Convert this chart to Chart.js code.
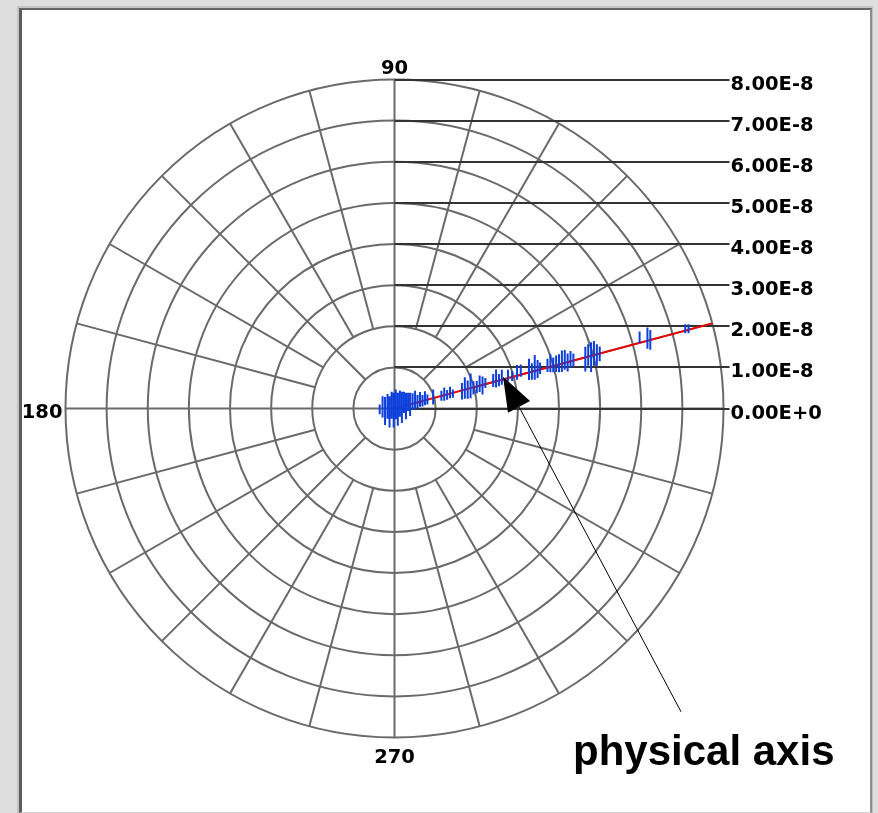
<!DOCTYPE html>
<html>
<head>
<meta charset="utf-8">
<script src="https://cdn.jsdelivr.net/npm/chart.js@4/dist/chart.umd.min.js"></script>
<style>
  html, body { margin: 0; padding: 0; background: #dedede; width: 878px; height: 813px; overflow: hidden; }
  #outer { position: absolute; left: 17px; top: 6px; width: 856px; height: 807px;
           border-left: 2px solid #c4c4c4; border-top: 2px solid #c4c4c4; border-right: 1px solid #c0c0c0; box-sizing: border-box; }
  #inner { position: absolute; left: 0; top: 0; right: 0; bottom: 0; background: #fff;
           border-left: 3px solid #5c5c5c; border-top: 2px solid #666; border-right: 2px solid #8c8c8c; border-bottom: 1px solid #d2d2d2; }
  canvas { position: absolute; left: 0; top: 0; }
</style>
</head>
<body>
<div id="outer"><div id="inner"></div></div>
<canvas id="c" width="878" height="813"></canvas>
<script>
// ---- data (values in units of 1e-8) ----
const UNIT = 1e-8;
const ringValues = [1, 2, 3, 4, 5, 6, 7, 8];
const radialTickValues = [0, 1, 2, 3, 4, 5, 6, 7, 8];
const radialTickLabels = ['0.00E+0', '1.00E-8', '2.00E-8', '3.00E-8', '4.00E-8', '5.00E-8', '6.00E-8', '7.00E-8', '8.00E-8'];
const spokeAngles = [0, 15, 30, 45, 60, 75, 90, 105, 120, 135, 150, 165, 180, 195, 210, 225, 240, 255, 270, 285, 300, 315, 330, 345];
const angleLabelAngles = [90, 180, 270];
const angleLabels = ['90', '180', '270'];
const axisAngle = 15;       // physical axis direction (deg)
const axisLength = 8;       // ×1e-8
const annotationText = 'physical axis';
const annotationTip = [2.64, 0.77]; // ×1e-8

const ptX = [-0.36,-0.29,-0.23,-0.17,-0.12,-0.07,-0.02,0.03,0.08,0.13,0.18,0.23,0.28,0.33,0.38,0.44,0.5,0.56,0.62,0.68,0.74,0.8,0.94,
  1.14,1.21,1.28,1.35,1.42,
  1.64,1.71,1.78,1.85,1.92,2.0,2.07,2.14,2.21,
  2.4,2.47,2.54,2.61,2.76,2.86,2.98,3.07,
  3.27,3.34,3.41,3.48,3.54,3.72,3.79,3.86,3.93,4.0,4.07,4.14,4.21,4.28,4.35,
  4.64,4.71,4.78,4.85,4.92,4.99,5.96,6.15,6.22,7.07,7.15];
const ptY = [-0.02,0.04,-0.06,0.05,-0.08,0.08,-0.04,0.1,-0.02,0.12,0.03,0.15,0.06,0.16,0.1,0.17,0.21,0.16,0.22,0.19,0.25,0.22,0.28,
  0.31,0.35,0.33,0.39,0.36,
  0.42,0.5,0.46,0.55,0.5,0.52,0.6,0.56,0.62,
  0.68,0.73,0.69,0.76,0.8,0.79,0.88,0.92,
  0.95,0.9,1.0,0.96,0.98,1.05,1.1,1.06,1.09,1.1,1.15,1.18,1.12,1.2,1.18,
  1.2,1.3,1.25,1.34,1.3,1.33,1.73,1.71,1.67,1.94,1.94];
const ptErr = [0.12,0.26,0.34,0.3,0.38,0.33,0.42,0.36,0.4,0.32,0.38,0.26,0.32,0.22,0.28,0.2,0.22,0.17,0.18,0.14,0.17,0.12,0.18,
  0.12,0.16,0.12,0.14,0.1,
  0.2,0.26,0.22,0.3,0.16,0.15,0.2,0.22,0.12,
  0.16,0.22,0.15,0.18,0.14,0.12,0.18,0.15,
  0.26,0.2,0.3,0.22,0.14,0.16,0.22,0.18,0.2,0.22,0.26,0.24,0.22,0.2,0.16,
  0.3,0.26,0.36,0.3,0.26,0.18,0.14,0.26,0.24,0.11,0.11];

// ---- build datasets ----
const barData = [];
for (let i = 0; i < ptX.length; i++) {
  barData.push({ x: ptX[i] * UNIT, y: (ptY[i] - ptErr[i]) * UNIT });
  barData.push({ x: ptX[i] * UNIT, y: (ptY[i] + ptErr[i]) * UNIT });
  barData.push({ x: ptX[i] * UNIT, y: null });
}
const rad = a => a * Math.PI / 180;
const axisData = [
  { x: 0, y: 0 },
  { x: axisLength * Math.cos(rad(axisAngle)) * UNIT, y: axisLength * Math.sin(rad(axisAngle)) * UNIT }
];

const GRID = '#6a6a6a';
const LABEL_LINE = '#333333';
const LABEL_FONT = 'bold 19.5px "DejaVu Sans"';

const polarGrid = {
  id: 'polarGrid',
  beforeDatasetsDraw(chart) {
    const xs = chart.scales.x, ys = chart.scales.y, ctx = chart.ctx;
    const P = (r, a) => [xs.getPixelForValue(r * Math.cos(rad(a)) * UNIT), ys.getPixelForValue(r * Math.sin(rad(a)) * UNIT)];
    const cx = xs.getPixelForValue(0), cy = ys.getPixelForValue(0);
    const maxR = ringValues[ringValues.length - 1];
    ctx.save();
    ctx.strokeStyle = GRID;
    ctx.lineWidth = 2;
    ringValues.forEach(r => {
      const pr = xs.getPixelForValue(r * UNIT) - cx;
      ctx.beginPath();
      ctx.arc(cx, cy, pr, 0, Math.PI * 2);
      ctx.stroke();
    });
    spokeAngles.forEach(a => {
      const start = (a % 90 === 0) ? 0 : (a % 45 === 0 ? 1 : 2);
      const p0 = P(start, a), p1 = P(maxR, a);
      ctx.beginPath();
      ctx.moveTo(p0[0], p0[1]);
      ctx.lineTo(p1[0], p1[1]);
      ctx.stroke();
    });
    // radial tick lines + labels
    const xEnd = xs.right + 6;
    ctx.strokeStyle = LABEL_LINE;
    ctx.lineWidth = 2;
    ctx.fillStyle = '#000';
    ctx.font = LABEL_FONT;
    ctx.textAlign = 'left';
    ctx.textBaseline = 'alphabetic';
    radialTickValues.forEach((v, i) => {
      const y = Math.round(ys.getPixelForValue(v * UNIT));
      ctx.beginPath();
      ctx.moveTo(cx, y);
      ctx.lineTo(xEnd, y);
      ctx.stroke();
      ctx.fillText(radialTickLabels[i], xEnd + 1, y + 10);
    });
    // angle labels
    angleLabelAngles.forEach((a, i) => {
      const p = P(maxR, a);
      if (a === 90) { ctx.textAlign = 'center'; ctx.fillText(angleLabels[i], p[0], p[1] - 5.5); }
      else if (a === 180) { ctx.textAlign = 'right'; ctx.fillText(angleLabels[i], p[0] - 3, p[1] + 9); }
      else if (a === 270) { ctx.textAlign = 'center'; ctx.fillText(angleLabels[i], p[0], p[1] + 25); }
    });
    ctx.restore();
  }
};

const annotation = {
  id: 'annotation',
  afterDatasetsDraw(chart) {
    const xs = chart.scales.x, ys = chart.scales.y, ctx = chart.ctx;
    const tx = xs.getPixelForValue(annotationTip[0] * UNIT), ty = ys.getPixelForValue(annotationTip[1] * UNIT);
    const tailX = tx + 178, tailY = ty + 335;
    const dx = tailX - tx, dy = tailY - ty, L = Math.hypot(dx, dy);
    const ux = dx / L, uy = dy / L;
    const headLen = 34, halfW = 12.5;
    const bx = tx + ux * headLen, by = ty + uy * headLen;
    ctx.save();
    ctx.strokeStyle = '#000';
    ctx.lineWidth = 1;
    ctx.beginPath();
    ctx.moveTo(bx, by);
    ctx.lineTo(tailX, tailY);
    ctx.stroke();
    ctx.fillStyle = '#000';
    ctx.beginPath();
    ctx.moveTo(tx, ty);
    ctx.lineTo(bx - uy * halfW, by + ux * halfW);
    ctx.lineTo(bx + uy * halfW, by - ux * halfW);
    ctx.closePath();
    ctx.fill();
    ctx.font = 'bold 42px "Liberation Sans"';
    ctx.textAlign = 'left';
    ctx.textBaseline = 'alphabetic';
    ctx.fillText(annotationText, 573, 765);
    ctx.restore();
  }
};

new Chart(document.getElementById('c'), {
  type: 'scatter',
  data: {
    datasets: [
      { label: 'data', data: barData, showLine: true, spanGaps: false, borderColor: '#0d3fdc', borderWidth: 2, pointRadius: 0, pointHoverRadius: 0 },
      { label: 'axis', data: axisData, showLine: true, borderColor: '#f00000', borderWidth: 2, pointRadius: 0, pointHoverRadius: 0 }
    ]
  },
  options: {
    responsive: false,
    animation: false,
    devicePixelRatio: 1,
    layout: { padding: { left: 65.5, top: 79.5, right: 154.5, bottom: 75.5 } },
    plugins: { legend: { display: false }, tooltip: { enabled: false } },
    events: [],
    scales: {
      x: { type: 'linear', display: false, min: -8 * UNIT, max: 8 * UNIT },
      y: { type: 'linear', display: false, min: -8 * UNIT, max: 8 * UNIT }
    }
  },
  plugins: [polarGrid, annotation]
});
</script>
</body>
</html>
